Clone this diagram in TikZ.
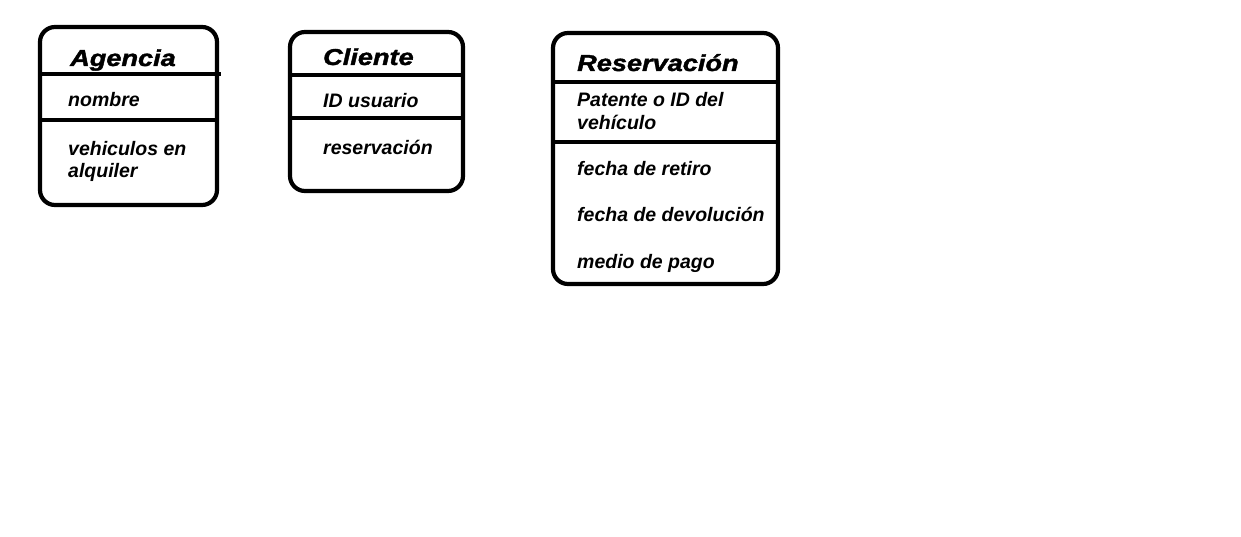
\documentclass[tikz,border=0pt]{standalone}
\usepackage{fontspec}
\usepackage{graphicx}
\setmainfont{Liberation Sans}
\newfontface\titlefont{Liberation Sans Bold Italic}[FakeBold=1.5]
\begin{document}
\begin{tikzpicture}[x=1pt,y=-1pt,
  box/.style={line width=4.2pt, rounded corners=15pt},
  divider/.style={line width=4.2pt},
  title/.style={anchor=base west, inner sep=0pt, font=\fontsize{23}{23}\titlefont},
  attr/.style={anchor=base west, inner sep=0pt, font=\fontsize{19.5}{22}\selectfont\bfseries\itshape}]
\useasboundingbox[fill=white] (0,0) rectangle (1241,537);
% Agencia
\draw[box] (40,27) rectangle (217,205);
\coordinate (a1l) at (40,74); \coordinate (a1r) at (221,74);
\coordinate (a2l) at (40,120); \coordinate (a2r) at (217,120);
\draw[divider] (a1l) -- (a1r);
\draw[divider] (a2l) -- (a2r);
\node[title] (agt) at (70,66) {\scalebox{1.18}[1]{Agencia}};
\node[attr] (ag1) at (68,107) {nombre};
\node[attr] (ag2) at (68,156) {vehiculos en};
\node[attr] (ag3) at (68,178) {alquiler};
% Cliente
\draw[box] (290,32) rectangle (463,191);
\coordinate (c1l) at (290,75); \coordinate (c1r) at (463,75);
\coordinate (c2l) at (290,118); \coordinate (c2r) at (463,118);
\draw[divider] (c1l) -- (c1r);
\draw[divider] (c2l) -- (c2r);
\node[title] (clt) at (323,65) {\scalebox{1.18}[1]{Cliente}};
\node[attr] (cl1) at (323,108) {ID usuario};
\node[attr] (cl2) at (323,155) {reservación};
% Reservacion
\draw[box] (553,33) rectangle (778,284);
\coordinate (r1l) at (553,82); \coordinate (r1r) at (778,82);
\coordinate (r2l) at (553,142); \coordinate (r2r) at (778,142);
\draw[divider] (r1l) -- (r1r);
\draw[divider] (r2l) -- (r2r);
\node[title] (rst) at (577,71) {\scalebox{1.18}[1]{Reservación}};
\node[attr] (rs1) at (577,107) {Patente o ID del};
\node[attr] (rs2) at (577,130) {vehículo};
\node[attr] (rs3) at (577,176) {fecha de retiro};
\node[attr] (rs4) at (577,222) {fecha de devolución};
\node[attr] (rs5) at (577,268) {medio de pago};
\end{tikzpicture}
\end{document}
